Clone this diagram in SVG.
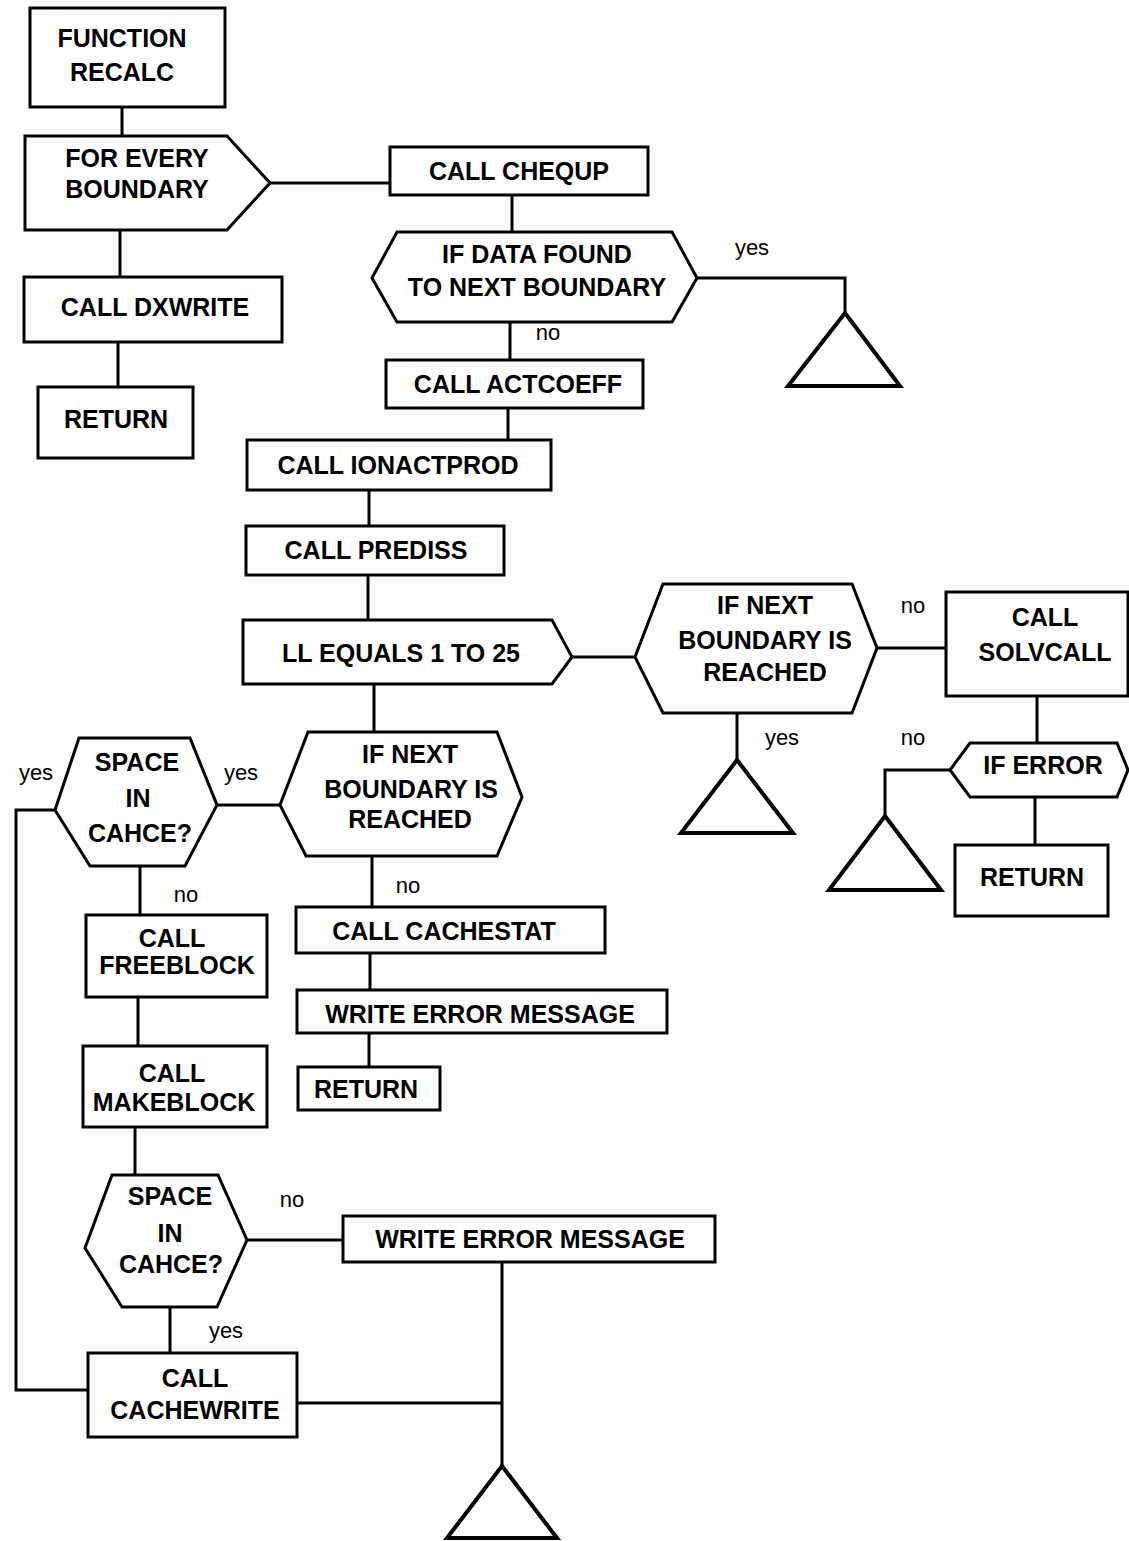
<svg xmlns="http://www.w3.org/2000/svg" width="1129" height="1541" viewBox="0 0 1129 1541">
  <style>
    .shape { fill: #fff; stroke: #000; stroke-width: 3; stroke-linejoin: miter; }
    .term { fill: none; stroke: #000; stroke-width: 4; stroke-linejoin: miter; }
    .wire { fill: none; stroke: #000; stroke-width: 3; }
    .t { font-family: "Liberation Sans", Arial, Helvetica, sans-serif; font-weight: bold; font-size: 25px; text-anchor: middle; fill: #000; }
    .e { font-family: "Liberation Sans", Arial, Helvetica, sans-serif; font-size: 22px; text-anchor: middle; fill: #000; }
  </style>
  <rect width="1129" height="1541" fill="#fff"/>

  <!-- connectors -->
  <g id="connectors">
    <polyline class="wire" points="122,107 122,136"/>
    <polyline class="wire" points="120,230 120,277"/>
    <polyline class="wire" points="118,342 118,387"/>
    <polyline class="wire" points="270,183 390,183"/>
    <polyline class="wire" points="512,195 512,232"/>
    <polyline class="wire" points="697,278 845,278 845,313"/>
    <polyline class="wire" points="510,322 510,360"/>
    <polyline class="wire" points="508,408 508,440"/>
    <polyline class="wire" points="369,490 369,526"/>
    <polyline class="wire" points="368,575 368,620"/>
    <polyline class="wire" points="572,657 635,657"/>
    <polyline class="wire" points="374,684 374,732"/>
    <polyline class="wire" points="877,648 946,648"/>
    <polyline class="wire" points="737,713 737,760"/>
    <polyline class="wire" points="1037,696 1037,743"/>
    <polyline class="wire" points="950,770 885,770 885,816"/>
    <polyline class="wire" points="1035,797 1035,845"/>
    <polyline class="wire" points="217,805 280,805"/>
    <polyline class="wire" points="55,810 16,810 16,1390 88,1390"/>
    <polyline class="wire" points="140,866 140,915"/>
    <polyline class="wire" points="138,997 138,1046"/>
    <polyline class="wire" points="135,1127 135,1175"/>
    <polyline class="wire" points="372,856 372,907"/>
    <polyline class="wire" points="370,953 370,990"/>
    <polyline class="wire" points="369,1033 369,1067"/>
    <polyline class="wire" points="247,1240 343,1240"/>
    <polyline class="wire" points="170,1307 170,1353"/>
    <polyline class="wire" points="297,1403 502,1403"/>
    <polyline class="wire" points="502,1262 502,1466"/>
  </g>

  <!-- branch labels -->
  <g id="branch-labels">
    <text class="e" x="752" y="255">yes</text>
    <text class="e" x="548" y="340">no</text>
    <text class="e" x="913" y="613">no</text>
    <text class="e" x="782" y="745">yes</text>
    <text class="e" x="913" y="745">no</text>
    <text class="e" x="36" y="780">yes</text>
    <text class="e" x="241" y="780">yes</text>
    <text class="e" x="186" y="902">no</text>
    <text class="e" x="408" y="893">no</text>
    <text class="e" x="292" y="1207">no</text>
    <text class="e" x="226" y="1338">yes</text>
  </g>

  <g id="function-recalc">
    <rect class="shape" x="30" y="8" width="195" height="99"/>
    <text class="t" x="122" y="47">FUNCTION</text>
    <text class="t" x="122" y="81">RECALC</text>
  </g>

  <g id="for-every-boundary">
    <polygon class="shape" points="25,136 227,136 270,183 227,230 25,230"/>
    <text class="t" x="137" y="167">FOR EVERY</text>
    <text class="t" x="137" y="198">BOUNDARY</text>
  </g>

  <g id="call-dxwrite">
    <rect class="shape" x="24" y="277" width="258" height="65"/>
    <text class="t" x="155" y="316">CALL DXWRITE</text>
  </g>

  <g id="return-1">
    <rect class="shape" x="38" y="387" width="155" height="71"/>
    <text class="t" x="116" y="428">RETURN</text>
  </g>

  <g id="call-chequp">
    <rect class="shape" x="390" y="147" width="258" height="48"/>
    <text class="t" x="519" y="180">CALL CHEQUP</text>
  </g>

  <g id="if-data-found">
    <polygon class="shape" points="397,232 672,232 697,278 672,322 397,322 372,278"/>
    <text class="t" x="537" y="263">IF DATA FOUND</text>
    <text class="t" x="537" y="296">TO NEXT BOUNDARY</text>
  </g>

  <g id="end-1">
    <polygon class="term" points="845,313 900,386 788,386"/>
  </g>

  <g id="call-actcoeff">
    <rect class="shape" x="386" y="360" width="257" height="48"/>
    <text class="t" x="518" y="393">CALL ACTCOEFF</text>
  </g>

  <g id="call-ionactprod">
    <rect class="shape" x="247" y="440" width="304" height="50"/>
    <text class="t" x="398" y="474">CALL IONACTPROD</text>
  </g>

  <g id="call-prediss">
    <rect class="shape" x="246" y="526" width="258" height="49"/>
    <text class="t" x="376" y="559">CALL PREDISS</text>
  </g>

  <g id="ll-loop">
    <polygon class="shape" points="243,620 552,620 572,657 552,684 243,684"/>
    <text class="t" x="401" y="662">LL EQUALS 1 TO 25</text>
  </g>

  <g id="if-next-boundary-1">
    <polygon class="shape" points="663,584 852,584 877,648 852,713 663,713 635,657"/>
    <text class="t" x="765" y="614">IF NEXT</text>
    <text class="t" x="765" y="649">BOUNDARY IS</text>
    <text class="t" x="765" y="681">REACHED</text>
  </g>

  <g id="end-2">
    <polygon class="term" points="737,760 793,833 681,833"/>
  </g>

  <g id="call-solvcall">
    <rect class="shape" x="946" y="592" width="182" height="104"/>
    <text class="t" x="1045" y="626">CALL</text>
    <text class="t" x="1045" y="661">SOLVCALL</text>
  </g>

  <g id="if-error">
    <polygon class="shape" points="970,743 1117,743 1128,770 1117,797 970,797 950,770"/>
    <text class="t" x="1043" y="774">IF ERROR</text>
  </g>

  <g id="end-3">
    <polygon class="term" points="885,816 941,890 829,890"/>
  </g>

  <g id="return-2">
    <rect class="shape" x="955" y="845" width="153" height="71"/>
    <text class="t" x="1032" y="886">RETURN</text>
  </g>

  <g id="if-next-boundary-2">
    <polygon class="shape" points="308,732 497,732 522,797 497,856 306,856 280,805"/>
    <text class="t" x="410" y="763">IF NEXT</text>
    <text class="t" x="411" y="798">BOUNDARY IS</text>
    <text class="t" x="410" y="828">REACHED</text>
  </g>

  <g id="space-in-cache-1">
    <polygon class="shape" points="79,738 190,738 217,805 185,866 90,866 55,810"/>
    <text class="t" x="137" y="771">SPACE</text>
    <text class="t" x="138" y="807">IN</text>
    <text class="t" x="140" y="842">CAHCE?</text>
  </g>

  <g id="call-freeblock">
    <rect class="shape" x="86" y="915" width="181" height="82"/>
    <text class="t" x="172" y="947">CALL</text>
    <text class="t" x="177" y="974">FREEBLOCK</text>
  </g>

  <g id="call-makeblock">
    <rect class="shape" x="83" y="1046" width="184" height="81"/>
    <text class="t" x="172" y="1082">CALL</text>
    <text class="t" x="174" y="1111">MAKEBLOCK</text>
  </g>

  <g id="call-cachestat">
    <rect class="shape" x="296" y="907" width="309" height="46"/>
    <text class="t" x="444" y="940">CALL CACHESTAT</text>
  </g>

  <g id="write-error-1">
    <rect class="shape" x="297" y="990" width="370" height="43"/>
    <text class="t" x="480" y="1023">WRITE ERROR MESSAGE</text>
  </g>

  <g id="return-3">
    <rect class="shape" x="298" y="1067" width="142" height="43"/>
    <text class="t" x="366" y="1098">RETURN</text>
  </g>

  <g id="space-in-cache-2">
    <polygon class="shape" points="112,1175 218,1175 247,1240 217,1307 122,1307 85,1248"/>
    <text class="t" x="170" y="1205">SPACE</text>
    <text class="t" x="170" y="1242">IN</text>
    <text class="t" x="171" y="1273">CAHCE?</text>
  </g>

  <g id="write-error-2">
    <rect class="shape" x="343" y="1216" width="372" height="46"/>
    <text class="t" x="530" y="1248">WRITE ERROR MESSAGE</text>
  </g>

  <g id="call-cachewrite">
    <rect class="shape" x="88" y="1353" width="209" height="84"/>
    <text class="t" x="195" y="1387">CALL</text>
    <text class="t" x="195" y="1419">CACHEWRITE</text>
  </g>

  <g id="end-4">
    <polygon class="term" points="502,1466 557,1538 447,1538"/>
  </g>
</svg>
